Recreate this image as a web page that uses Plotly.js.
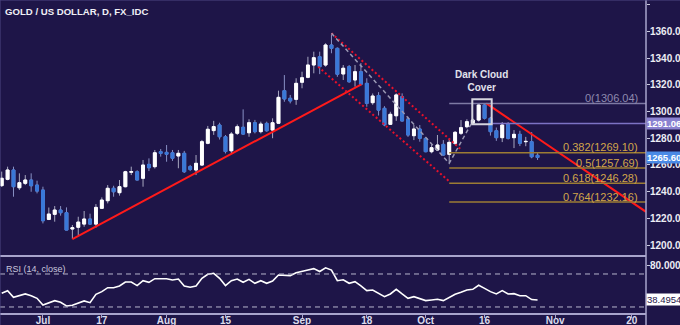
<!DOCTYPE html>
<html><head><meta charset="utf-8">
<script src="https://cdn.plot.ly/plotly-3.0.1.min.js"></script>
<style>html,body{margin:0;padding:0;background:#1e1548;}#chart{width:680px;height:325px;}</style>
</head><body><div id="chart"></div>
<script>
const dates = [
'2017-06-22','2017-06-23','2017-06-26','2017-06-27','2017-06-28','2017-06-29','2017-06-30',
'2017-07-03','2017-07-04','2017-07-05','2017-07-06','2017-07-07',
'2017-07-10','2017-07-11','2017-07-12','2017-07-13','2017-07-14',
'2017-07-17','2017-07-18','2017-07-19','2017-07-20','2017-07-21',
'2017-07-24','2017-07-25','2017-07-26','2017-07-27','2017-07-28',
'2017-07-31','2017-08-01','2017-08-02','2017-08-03','2017-08-04',
'2017-08-07','2017-08-08','2017-08-09','2017-08-10','2017-08-11',
'2017-08-14','2017-08-15','2017-08-16','2017-08-17','2017-08-18',
'2017-08-21','2017-08-22','2017-08-23','2017-08-24','2017-08-25',
'2017-08-28','2017-08-29','2017-08-30','2017-08-31','2017-09-01',
'2017-09-04','2017-09-05','2017-09-06','2017-09-07','2017-09-08',
'2017-09-11','2017-09-12','2017-09-13','2017-09-14','2017-09-15',
'2017-09-18','2017-09-19','2017-09-20','2017-09-21','2017-09-22',
'2017-09-25','2017-09-26','2017-09-27','2017-09-28','2017-09-29',
'2017-10-02','2017-10-03','2017-10-04','2017-10-05','2017-10-06',
'2017-10-09','2017-10-10','2017-10-11','2017-10-12','2017-10-13',
'2017-10-16','2017-10-17','2017-10-18','2017-10-19','2017-10-20',
'2017-10-23','2017-10-24','2017-10-25','2017-10-26','2017-10-27'];

const open = [1244.5,1249.2,1256.2,1242.9,1246.2,1248.7,1244.9,
1241.2,1219.2,1223.0,1226.2,1224.2,
1212.0,1213.3,1215.7,1219.5,1215.7,
1227.5,1233.2,1242.5,1239.2,1243.7,
1254.5,1254.9,1250.0,1260.4,1258.7,
1269.9,1269.4,1269.1,1266.7,1268.7,
1258.7,1256.2,1259.9,1276.2,1285.7,
1289.9,1281.1,1270.6,1283.7,1288.2,
1284.1,1291.6,1284.9,1291.1,1286.1,
1291.2,1315.6,1309.9,1309.1,1321.9,
1325.6,1334.8,1341.0,1334.8,1349.8,
1347.3,1328.1,1333.6,1323.6,1329.8,
1321.1,1306.6,1312.0,1302.4,1290.4,
1296.8,1311.1,1294.4,1281.9,1286.9,
1279.9,1269.9,1271.2,1275.4,1267.9,
1276.2,1283.7,1288.6,1291.2,1293.6,
1304.9,1294.9,1285.6,1280.4,1290.4,
1280.4,1282.9,1277.4,1277.4,1267.2];
const high = [1255.0,1258.7,1258.7,1253.7,1252.4,1253.7,1248.2,
1243.7,1228.1,1229.2,1229.2,1228.2,
1215.0,1221.2,1225.5,1223.5,1230.7,
1235.7,1244.9,1244.4,1248.7,1255.6,
1258.7,1256.0,1263.7,1264.9,1271.2,
1271.9,1274.9,1271.2,1271.2,1270.5,
1260.0,1267.4,1278.7,1289.2,1293.0,
1291.6,1282.4,1284.6,1290.3,1301.6,
1294.2,1293.7,1292.4,1292.4,1294.9,
1315.6,1327.3,1312.4,1324.9,1329.8,
1341.0,1344.8,1344.8,1351.1,1358.0,
1348.0,1334.8,1334.8,1334.8,1336.3,
1324.9,1313.5,1314.5,1304.0,1299.8,
1313.6,1313.6,1296.1,1289.9,1289.9,
1280.4,1275.4,1282.4,1278.6,1279.9,
1285.4,1293.6,1294.2,1294.9,1305.6,
1306.0,1296.0,1288.0,1292.1,1292.1,
1286.1,1285.6,1281.0,1284.6,1268.9];
const low = [1243.5,1248.5,1236.2,1241.2,1244.9,1239.9,1238.7,
1216.2,1218.7,1217.5,1222.0,1211.0,
1204.5,1207.5,1213.7,1215.0,1213.0,
1227.0,1231.2,1236.2,1237.0,1243.2,
1252.4,1248.5,1243.7,1255.4,1257.3,
1266.2,1262.4,1263.0,1257.5,1254.0,
1255.4,1252.4,1259.2,1275.5,1282.5,
1279.0,1268.6,1268.6,1282.4,1282.5,
1281.1,1283.6,1283.6,1284.9,1280.0,
1290.6,1307.3,1306.1,1305.0,1317.4,
1324.9,1328.6,1328.0,1333.6,1343.6,
1326.0,1323.6,1321.5,1318.6,1319.6,
1303.6,1305.0,1297.0,1289.0,1289.9,
1293.0,1292.5,1281.0,1278.6,1277.4,
1269.5,1268.7,1270.4,1266.9,1261.2,
1274.9,1282.4,1287.4,1289.9,1292.5,
1294.0,1282.0,1278.0,1277.1,1279.0,
1272.6,1274.1,1274.0,1265.0,1263.7];
const close = [1250.0,1256.2,1243.7,1246.7,1248.7,1244.4,1240.4,
1218.2,1223.2,1226.2,1224.2,1211.2,
1213.0,1217.2,1219.5,1215.7,1228.2,
1233.7,1242.5,1239.9,1243.7,1254.9,
1255.0,1248.7,1259.9,1257.9,1269.1,
1268.7,1268.0,1265.0,1268.7,1254.9,
1256.7,1261.2,1277.4,1286.7,1288.7,
1281.1,1270.0,1283.1,1288.6,1283.1,
1291.6,1284.9,1290.6,1285.6,1291.6,
1310.6,1309.4,1307.9,1321.1,1325.3,
1334.8,1340.3,1333.6,1349.8,1347.3,
1327.9,1332.4,1322.3,1329.8,1320.4,
1306.1,1311.6,1301.0,1290.0,1297.9,
1312.4,1292.9,1282.4,1286.9,1279.9,
1269.9,1272.9,1274.9,1267.4,1276.9,
1284.4,1287.9,1292.4,1293.6,1304.9,
1294.9,1284.9,1280.4,1289.9,1279.9,
1282.9,1276.2,1277.6,1266.1,1265.6];
const rsi = [46.6,49.8,41.7,43.3,45.8,43.7,40.5,
32.4,35.2,37.7,35.7,31.2,32.0,34.4,37.3,35.2,45.4,48.6,53.4,53.4,55.5,60.3,60.3,55.9,61.9,59.9,64.3,64.3,
64.3,62.7,63.9,55.5,53.9,55.5,64.7,69.6,70.8,64.7,55.9,61.9,63.9,59.9,63.5,58.7,61.9,58.7,61.5,68.8,68.8,68.0,71.6,
72.8,74.8,76.5,73.0,77.5,74.8,61.9,63.0,58.7,60.7,55.5,49.8,50.6,46.6,42.5,45.8,51.4,45.8,40.5,42.5,40.5,
37.7,38.5,39.3,37.7,41.7,45.4,47.8,50.6,51.4,56.3,52.6,48.6,45.8,49.8,45.8,46.2,43.7,43.7,39.0,38.5];

const tickDates = ['2017-07-03','2017-07-17','2017-08-01','2017-08-15','2017-09-01','2017-09-18','2017-10-02','2017-10-16','2017-11-01','2017-11-20'];
const tickLabels = ['Jul','17','Aug','15','Sep','18','Oct','16','Nov','20'];
const priceTicks = [1200,1220,1240,1260,1280,1300,1320,1340,1360,1380];
const rsiTicks = [80];
const rsiBands = [70,30];

const fibRatios = ['0','0.382','0.5','0.618','0.764'];
const fibLevels = [1306.04,1269.10,1257.69,1246.28,1232.16];
const fibStart = '2017-10-06';
const resistanceLevel = 1291.06;
const resistanceStart = '2017-10-17 05:00';
const lastPrice = 1265.60;
const lastRsi = 38.4954;

const upTrendX = ['2017-07-10','2017-09-15 02:00'];
const upTrendY = [1204.5,1320.4];
const downTrendX = ['2017-10-16 07:00','2017-11-22 10:00'];
const downTrendY = [1306.1,1224.9];
const channelUpperX = ['2017-09-08','2017-10-10 02:00'];
const channelUpperY = [1358.6,1271.2];
const channelLowerX = ['2017-09-05 18:00','2017-10-06 02:00'];
const channelLowerY = [1333.5,1247.4];
const zigzagX = ['2017-09-08','2017-10-06','2017-10-12 02:00'];
const zigzagY = [1358.6,1261.2,1293.6];
const patternBoxX = ['2017-10-11 22:00','2017-10-17 05:00'];
const patternBoxY = [1290.4,1309.1];

const xRange = ['2017-06-21 17:00','2017-11-22 10:00'];

const BG = '#1e1548';
const AXC = '#a8a4cc';
const FONT = 'Liberation Sans, Arial, sans-serif';
const FIB_LINE = '#9c7c34';
const FIB_TEXT = '#d2a64a';

const bodyHigh = open.map((o,i)=>Math.max(o,close[i]));
const bodyLow = open.map((o,i)=>Math.min(o,close[i]));

const traces = [
  {type:'candlestick', x:dates, open:open, high:high, low:low, close:close, xaxis:'x', yaxis:'y',
   increasing:{line:{color:'#a8a8c0', width:1}, fillcolor:'#ffffff'},
   decreasing:{line:{color:'#8890c4', width:1}, fillcolor:'#3a78d8'},
   whiskerwidth:0, hoverinfo:'skip', showlegend:false},
  {type:'candlestick', x:dates, open:open, high:bodyHigh, low:bodyLow, close:close, xaxis:'x', yaxis:'y',
   increasing:{line:{color:'#ffffff', width:1}, fillcolor:'#ffffff'},
   decreasing:{line:{color:'#3a78d8', width:1}, fillcolor:'#3a78d8'},
   whiskerwidth:0, hoverinfo:'skip', showlegend:false},
  {type:'scatter', mode:'lines', x:upTrendX, y:upTrendY, line:{color:'#ff1a1a', width:2}, hoverinfo:'skip'},
  {type:'scatter', mode:'lines', x:downTrendX, y:downTrendY, line:{color:'#ff1a1a', width:2}, hoverinfo:'skip'},
  {type:'scatter', mode:'lines', x:channelUpperX, y:channelUpperY, line:{color:'#e8102a', width:2, dash:'2px,2.5px'}, hoverinfo:'skip'},
  {type:'scatter', mode:'lines', x:channelLowerX, y:channelLowerY, line:{color:'#e8102a', width:2, dash:'2px,2.5px'}, hoverinfo:'skip'},
  {type:'scatter', mode:'lines', x:zigzagX, y:zigzagY, line:{color:'#9a98b4', width:1.5, dash:'4px,3px'}, hoverinfo:'skip'},
  {type:'scatter', mode:'lines', x:dates, y:rsi, xaxis:'x', yaxis:'y2', line:{color:'#ffffff', width:1.6}, hoverinfo:'skip'}
];

const shapes = [];
fibLevels.forEach((lv,i)=>{
  shapes.push({type:'line', xref:'x', yref:'y', x0:fibStart, x1:xRange[1], y0:lv, y1:lv,
    line:{color: i===0 ? '#7e7aa4' : FIB_LINE, width:1.5}});
});
shapes.push({type:'line', xref:'x', yref:'y', x0:resistanceStart, x1:xRange[1], y0:resistanceLevel, y1:resistanceLevel,
  line:{color:'#7c72c4', width:1.5}});
shapes.push({type:'rect', xref:'x', yref:'y', x0:patternBoxX[0], x1:patternBoxX[1], y0:patternBoxY[0], y1:patternBoxY[1],
  line:{color:'#d4d4de', width:2}});
rsiBands.forEach(b=>{
  shapes.push({type:'line', xref:'paper', yref:'y2', x0:0, x1:1, y0:b, y1:b, line:{color:'#b8b6cc', width:1, dash:'5px,4px'}});
});
shapes.push({type:'line', xref:'paper', yref:'paper', x0:0, x1:1, y0:57/313, y1:57/313, line:{color:AXC, width:2}});
shapes.push({type:'line', xref:'paper', yref:'paper', x0:1, x1:1, y0:-12/313, y1:1, line:{color:AXC, width:1.5}});
shapes.push({type:'line', xref:'paper', yref:'paper', x0:0, x1:1.06, y0:1, y1:1, line:{color:'#4c4682', width:1}});
shapes.push({type:'line', xref:'paper', yref:'paper', x0:0, x1:0, y0:-12/313, y1:1, line:{color:'#4c4682', width:1}});

const annotations = [
  {xref:'paper', yref:'paper', x:3/646, y:(313-11)/313, xanchor:'left', yanchor:'middle', showarrow:false,
   text:'GOLD / US DOLLAR, D, FX_IDC', font:{family:FONT, size:9.6, color:'#f0f0f6', weight:'bold'}},
  {xref:'paper', yref:'paper', x:4/646, y:(313-269)/313, xanchor:'left', yanchor:'middle', showarrow:false,
   text:'RSI (14, close)', font:{family:FONT, size:9, color:'#c8c6dc'}},
  {xref:'paper', yref:'paper', x:481.7/646, y:(313-81)/313, xanchor:'center', yanchor:'middle', showarrow:false,
   text:'Dark Cloud<br>Cover', font:{family:FONT, size:10, color:'#e2e2ec', weight:'bold'}},
  {xref:'paper', yref:'y', x:1, y:resistanceLevel, xanchor:'left', yanchor:'middle', xshift:0, showarrow:false,
   text:resistanceLevel.toFixed(2), bgcolor:'#8a82d0', borderpad:0, font:{family:FONT, size:9.5, color:'#ffffff', weight:'bold'}},
  {xref:'paper', yref:'y', x:1, y:lastPrice, xanchor:'left', yanchor:'middle', xshift:0, showarrow:false,
   text:lastPrice.toFixed(2), bgcolor:'#4a8ae6', borderpad:0, font:{family:FONT, size:9.5, color:'#ffffff', weight:'bold'}},
  {xref:'paper', yref:'y2', x:1, y:lastRsi, xanchor:'left', yanchor:'middle', xshift:0, showarrow:false,
   text:lastRsi.toFixed(4), bgcolor:'#ffffff', borderpad:0, font:{family:FONT, size:9.5, color:BG}}
];
fibLevels.forEach((lv,i)=>{
  annotations.push({xref:'paper', yref:'y', x:639.5/646, y:lv, xanchor:'right', yanchor:'middle', yshift:5.5, showarrow:false,
    text:fibRatios[i]+'('+lv.toFixed(2)+')', font:{family:FONT, size:11, color: i===0 ? '#8e8aae' : FIB_TEXT}});
});

const layout = {
  width:680, height:325, margin:{l:0, r:34, t:0, b:12},
  paper_bgcolor:BG, plot_bgcolor:BG, showlegend:false, hovermode:false,
  xaxis:{type:'date', range:xRange, rangebreaks:[{bounds:['sat','mon']}], rangeslider:{visible:false},
    anchor:'y2', tickmode:'array', tickvals:tickDates, ticktext:tickLabels, showgrid:false, zeroline:false,
    showline:true, linecolor:AXC, linewidth:2, ticks:'outside', ticklen:3, tickcolor:AXC, ticklabelstandoff:-6,
    tickfont:{family:FONT, size:10, color:'#dcdcec', weight:'bold'}},
  yaxis:{domain:[57/313,1], side:'right', range:[1191.8,1383.5], tickmode:'array', tickvals:priceTicks, tickformat:'.2f',
    showgrid:false, zeroline:false, ticks:'outside', ticklen:3, tickcolor:'#c8c8dc', ticklabelstandoff:-2,
    tickfont:{family:FONT, size:10, color:'#ececf4', weight:'bold'}},
  yaxis2:{domain:[0,56/313], side:'right', anchor:'x', range:[22.7,90.6], tickmode:'array', tickvals:rsiTicks, tickformat:'.4f',
    showgrid:false, zeroline:false, ticks:'outside', ticklen:3, tickcolor:'#c8c8dc', ticklabelstandoff:-2,
    tickfont:{family:FONT, size:10, color:'#ececf4', weight:'bold'}},
  shapes:shapes, annotations:annotations
};

Plotly.newPlot('chart', traces, layout, {staticPlot:true, displayModeBar:false});
</script></body></html>
